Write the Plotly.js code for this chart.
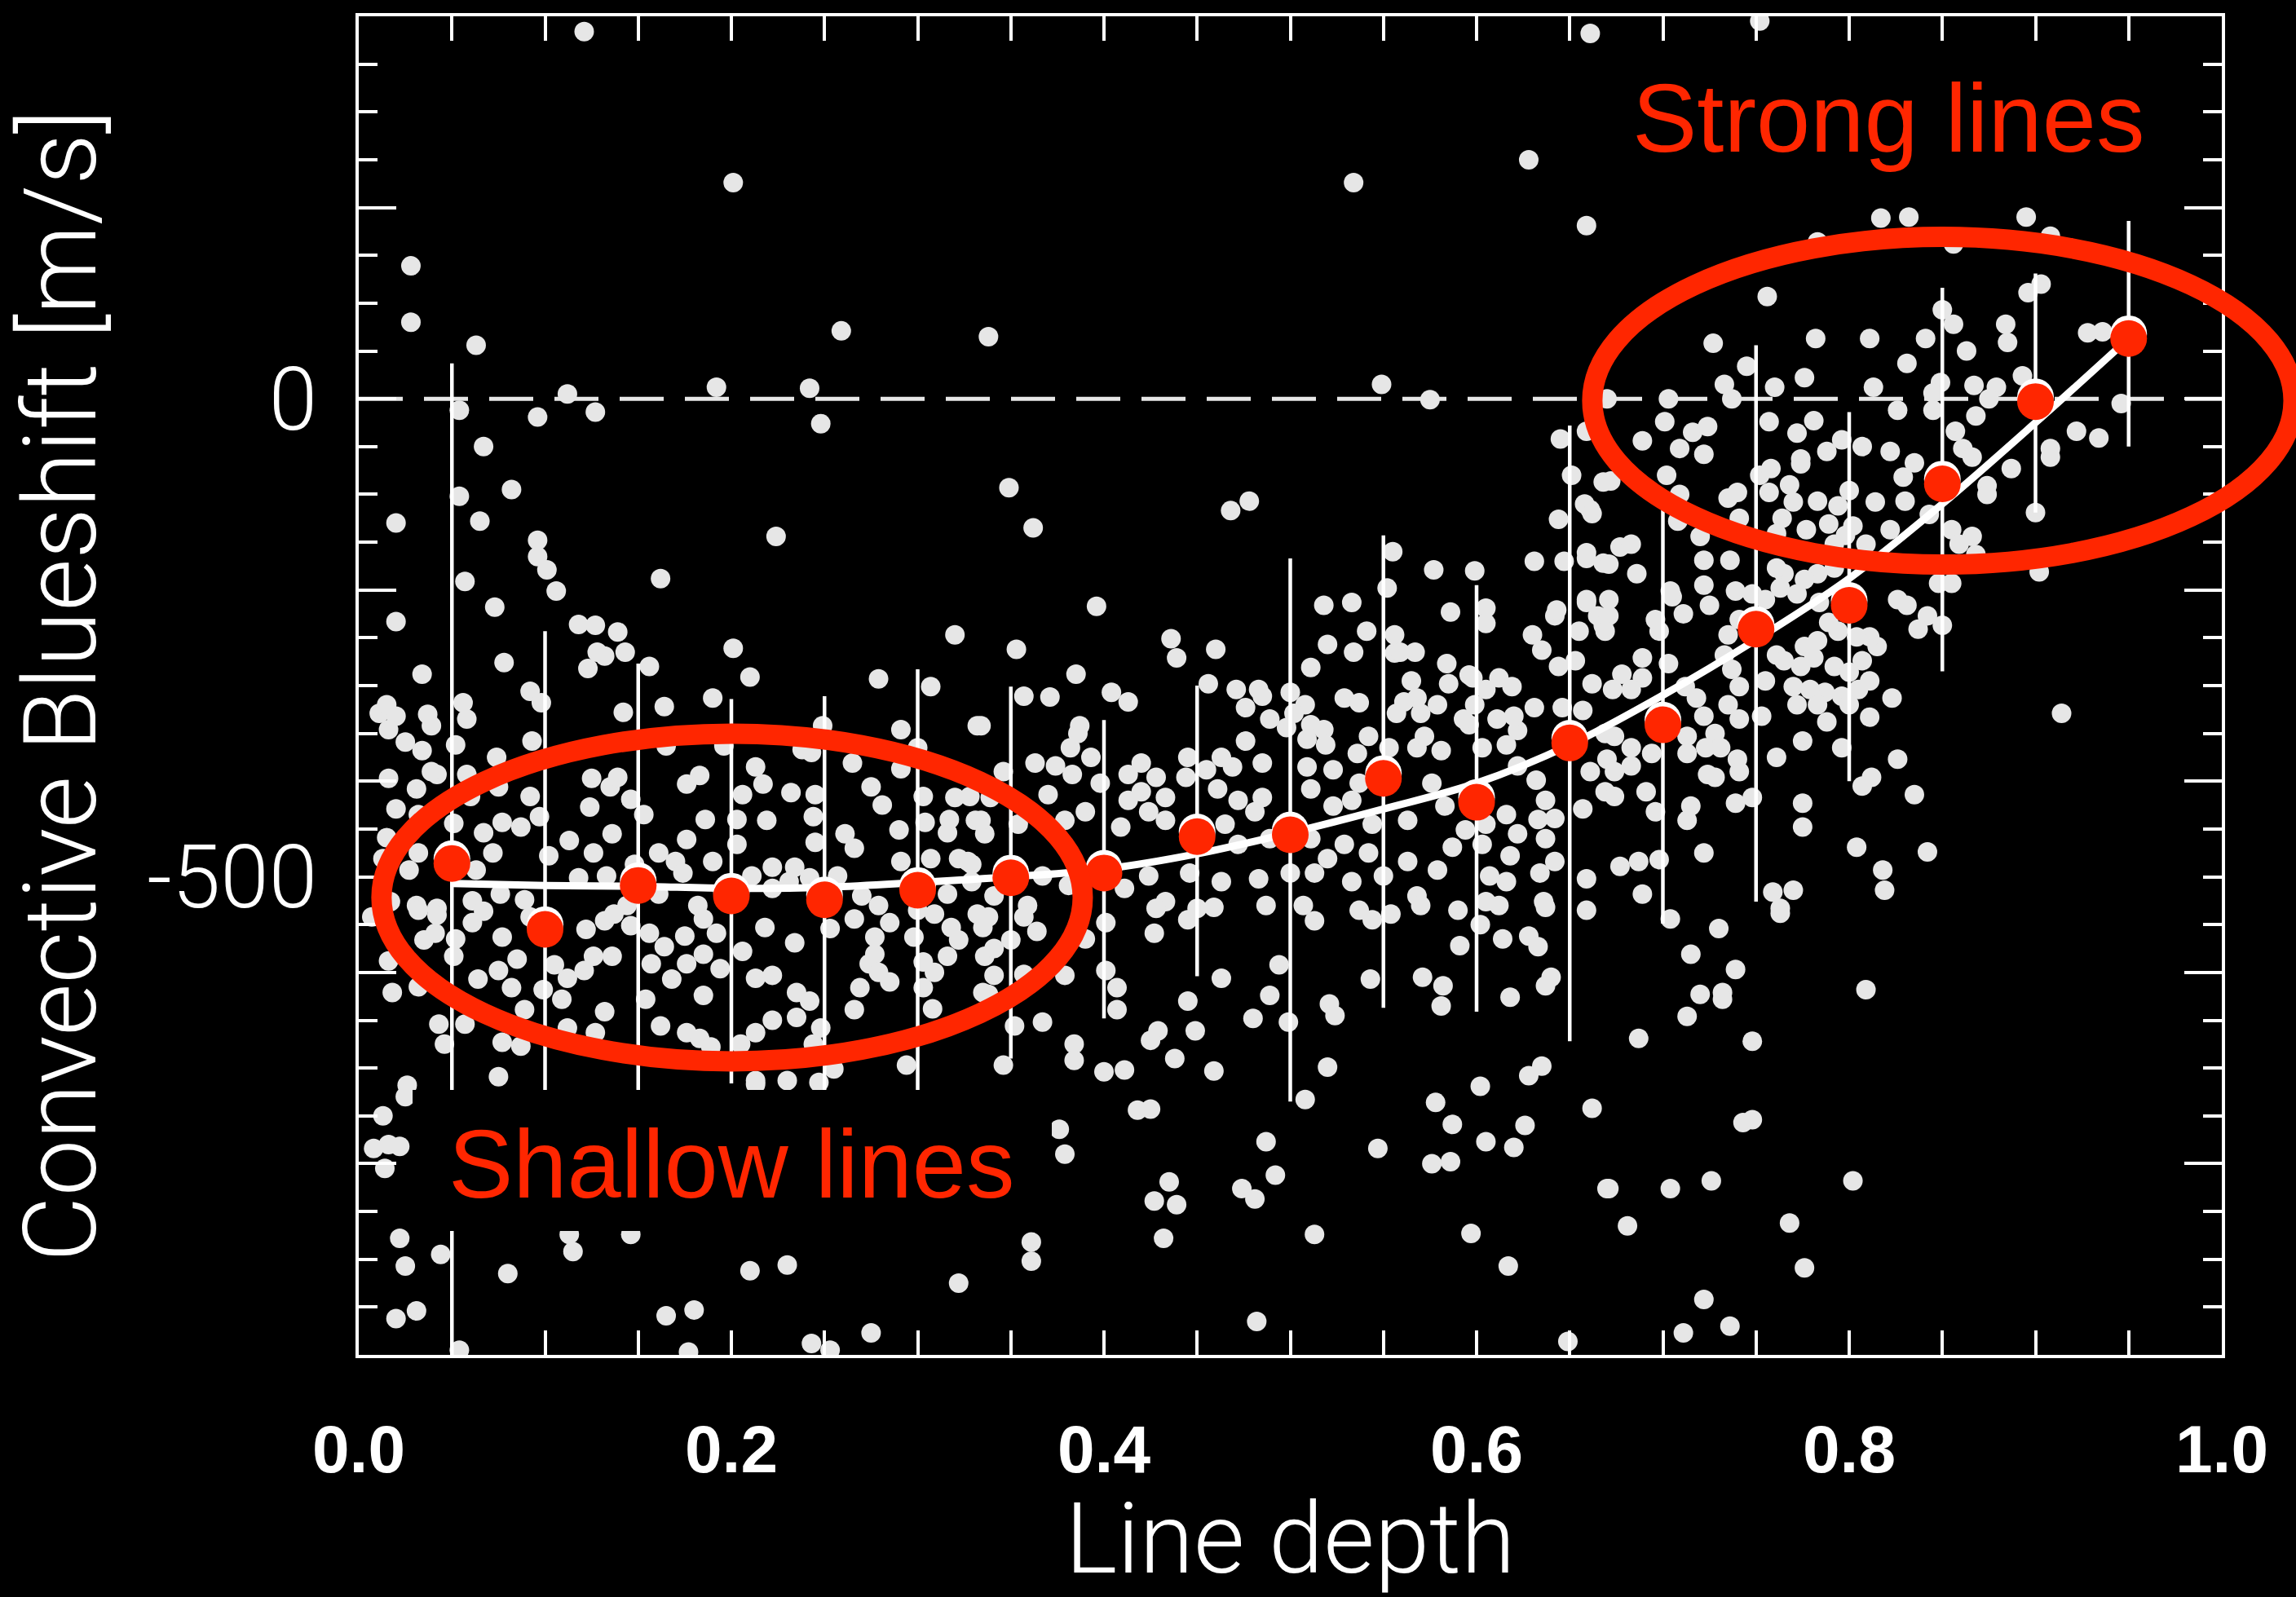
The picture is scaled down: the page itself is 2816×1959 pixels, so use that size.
<!DOCTYPE html>
<html>
<head>
<meta charset="utf-8">
<script src="https://cdn.plot.ly/plotly-3.0.1.min.js"></script>
<style>html,body{margin:0;padding:0;background:#000;}#chart{width:2816px;height:1959px;}</style>
</head>
<body>
<div id="chart"></div>
<script>
// Individual spectral lines: line depth (x) and convective blueshift in m/s (y)
const lineDepth = [
0.121,0.201,0.028,0.028,0.063,0.259,0.338,0.192,0.242,0.112,0.054,0.096,0.127,0.248,0.067,
0.661,0.534,0.628,0.659,0.549,0.575,0.645,0.659,0.670,
0.752,0.817,0.832,0.895,0.908,0.856,0.783,0.756,0.903,0.896,0.850,0.856,0.727,0.782,0.811,0.841,0.863,0.884,0.885,0.928,0.936,
0.745,0.831,0.733,0.776,0.760,0.737,0.703,0.813,0.849,0.845,0.867,0.879,0.893,0.946,0.701,0.716,0.724,0.689,0.757,0.781,0.772,
0.826,0.845,0.868,0.875,0.922,0.934,0.908,0.709,0.722,0.796,0.807,0.822,0.857,0.861,0.774,0.788,
0.054,0.082,0.020,0.065,0.096,0.096,0.101,0.106,0.224,0.057,0.162,0.073,0.020,0.118,0.127,0.139,0.128,0.132,0.143,0.123,0.156,
0.078,0.034,0.201,0.210,0.320,0.279,0.307,0.092,0.098,0.190,0.142,0.164,0.056,0.058,0.011,0.015,0.020,0.016,0.037,0.039,0.025,
0.034,0.052,0.093,0.074,0.249,0.291,0.332,0.300,0.265,0.165,0.196,0.238,0.243,0.213,0.217,0.232,0.176,0.183,0.206,0.245,0.275,
0.281,0.303,0.291,0.320,0.328,0.331,0.317,0.304,0.290,0.307,0.291,0.327,0.266,0.261,0.244,0.245,0.234,0.222,0.219,0.203,0.203,
0.190,0.186,0.176,0.161,0.170,0.153,0.146,0.135,0.139,0.125,0.124,0.136,0.126,0.113,0.102,0.092,0.097,0.087,0.077,0.075,0.060,
0.058,0.042,0.031,0.039,0.016,0.020,0.032,0.015,0.032,0.051,0.067,0.072,0.013,0.027,0.063,0.222,0.017,0.031,0.042,0.061,0.076,
0.089,0.118,0.133,0.174,0.182,0.231,0.270,0.279,0.316,0.329,0.322,0.316,0.336,0.329,0.242,0.257,0.211,0.148,0.161,0.144,
0.007,0.032,0.042,0.052,0.016,0.018,0.032,0.061,0.077,0.085,0.075,0.064,0.082,0.105,0.112,0.099,0.109,0.122,0.132,0.136,0.126,
0.121,0.132,0.089,0.043,0.057,0.046,0.077,0.087,0.075,0.112,0.127,0.156,0.164,0.175,0.192,0.157,0.168,0.176,0.185,0.194,0.154,
0.185,0.162,0.176,0.183,0.189,0.206,0.213,0.222,0.205,0.213,0.222,0.213,0.230,0.218,0.234,0.253,0.235,0.242,0.235,0.248,0.244,
0.255,0.247,0.266,0.269,0.277,0.274,0.285,0.279,0.303,0.309,0.303,0.308,0.294,0.316,0.336,0.298,0.318,0.335,0.300,0.332,
0.026,0.025,0.013,0.008,0.016,0.022,0.014,0.022,0.025,0.044,0.020,0.031,0.054,0.080,0.113,0.115,0.146,0.165,0.180,0.177,0.210,
0.230,0.275,0.243,0.253,0.322,0.213,0.035,0.041,0.051,0.067,0.092,0.137,0.146,0.185,0.266,0.277,0.285,0.322,0.309,0.335,
0.349,0.362,0.468,0.478,0.396,0.353,0.385,0.436,0.439,0.460,0.456,0.357,0.371,0.404,0.413,0.387,0.334,0.518,0.533,0.555,0.552,
0.577,0.599,0.586,0.605,0.605,0.631,0.647,0.644,0.661,0.651,0.659,0.668,0.630,0.642,0.659,0.665,0.668,0.635,0.644,0.584,0.598,
0.612,0.619,0.605,0.567,0.556,0.541,0.534,0.520,0.556,0.511,0.565,0.568,0.561,0.570,0.557,0.529,0.537,0.508,0.500,0.489,0.483,
0.471,0.476,0.498,0.511,0.518,0.519,0.509,0.476,0.463,0.445,0.455,0.469,0.485,0.509,0.511,0.523,0.536,0.542,0.553,0.537,0.533,
0.523,0.544,0.563,0.568,0.572,0.581,0.576,0.583,0.594,0.596,0.611,0.616,0.603,0.622,0.632,0.637,0.633,0.616,0.622,0.603,0.618,
0.637,0.642,0.634,0.616,0.607,0.659,0.669,0.661,0.657,0.642,0.670,0.669,0.657,0.662,0.653,0.646,0.631,0.622,0.620,0.599,0.593,
0.579,0.585,0.370,0.374,0.363,0.382,0.386,0.393,0.398,0.383,0.346,0.339,0.334,0.354,0.379,0.390,0.413,0.420,0.428,0.420,0.413,
0.424,0.433,0.433,0.409,0.444,0.461,0.472,0.485,0.481,0.465,0.472,0.489,0.511,0.520,0.529,0.542,0.550,0.563,0.579,0.587,0.533,
0.513,0.500,0.483,0.463,0.446,0.424,0.411,0.381,0.367,0.433,0.450,0.507,0.568,0.605,0.636,0.659,0.590,0.537,0.359,0.341,0.605,
0.596,0.559,0.502,0.485,
0.338,0.357,0.364,0.341,0.350,0.341,0.357,0.338,0.379,0.390,0.401,0.401,0.407,0.407,0.367,0.352,0.346,0.384,0.384,0.400,0.411,
0.418,0.425,0.376,0.379,0.427,0.428,0.445,0.459,0.463,0.445,0.449,0.429,0.425,0.438,0.459,0.435,0.427,0.439,0.361,0.361,0.432,
0.487,0.492,0.474,0.481,0.482,0.513,0.508,0.520,0.521,0.524,0.499,0.480,0.489,0.494,0.513,0.487,0.543,0.544,0.554,0.570,0.547,
0.571,0.582,0.581,0.591,0.602,0.614,0.628,0.633,0.612,0.637,0.640,0.637,0.618,0.578,0.602,0.587,0.628,0.635,0.626,0.662,0.605,
0.620,0.576,0.586,0.670,0.597,0.617,0.649,
0.704,0.763,0.730,0.715,0.739,0.720,0.732,0.732,0.713,0.687,0.748,0.809,0.743,0.748,0.671,0.704,0.726,0.802,0.681,0.768,0.776,
0.722,0.736,0.711,
0.672,0.702,0.709,0.708,0.720,0.735,0.740,0.741,0.752,0.758,0.757,0.768,0.770,0.764,0.761,0.774,0.783,0.777,0.789,0.794,0.800,
0.802,0.798,0.809,0.814,0.829,0.830,0.835,0.822,0.843,0.855,0.866,0.859,0.874,0.874,0.887,0.866,0.908,0.900,0.902,0.868,0.848,
0.855,0.850,0.842,0.837,0.826,0.831,0.823,0.811,0.811,0.807,0.815,0.811,0.804,0.792,0.800,0.792,0.783,0.776,0.765,0.761,0.763,
0.772,0.784,0.789,0.794,0.783,0.776,0.761,0.765,0.774,0.781,0.792,0.800,0.805,0.796,0.787,0.779,0.770,0.772,0.783,0.800,0.788,
0.775,0.761,0.796,0.826,0.812,0.807,0.835,0.775,0.775,0.804,0.842,0.818,0.819,0.770,0.759,0.914,0.753,0.755,0.741,0.737,0.733,
0.735,0.741,0.725,0.722,0.722,0.736,0.739,0.748,0.755,0.705,0.711,0.696,0.698,0.704,0.677,0.683,0.686,0.671,0.671,0.671,0.689,
0.703,0.678,0.689,0.673,0.683,0.718,0.712,0.722,0.735,0.741,0.728,0.713,0.674,0.683,0.694,0.713,0.723,0.731,0.740,0.728,0.741,
0.674,0.683,0.691,0.674,0.696,0.713,0.715,0.724,0.739,0.748,0.677,0.687,0.698,0.722,0.689,0.763,
0.668,0.658,0.662,0.659,0.659,0.643,0.655,0.669
];
const blueshift = [
384,226,139,80,56,71,65,12,11,5,-12,-19,-14,-26,-50,
382,226,250,181,15,-1,-42,-34,0,
395,189,190,190,170,162,164,107,120,111,93,78,58,63,63,63,50,78,59,69,70,
34,37,15,22,12,0,0,12,17,6,14,12,24,-5,-24,-35,-29,-44,-24,-23,-36,
-12,-12,-18,0,-34,-41,-52,-52,-58,-43,-50,-55,-34,-52,-63,-55,
-102,-95,-130,-128,-148,-165,-179,-201,-144,-191,-188,-218,-233,-236,-237,-244,-265,-269,-265,-282,-280,
-276,-288,-261,-291,-247,-293,-301,-306,-318,-313,-328,-322,-318,-335,-329,-320,-332,-346,-330,-342,-359,
-368,-362,-358,-375,-342,-346,-342,-365,-381,-363,-363,-367,-370,-385,-403,-412,-403,-394,-414,-414,-406,
-425,-416,-387,-417,-416,-441,-440,-443,-451,-481,-484,-484,-470,-455,-437,-464,-490,-490,-441,-440,-466,
-484,-440,-461,-475,-484,-435,-419,-406,-396,-397,-427,-455,-475,-462,-478,-416,-437,-448,-443,-406,-416,
-393,-393,-408,-390,-397,-429,-435,-459,-475,-444,-454,-475,-481,-493,-493,-512,-526,-530,-533,-525,-518,
-524,-501,-499,-496,-530,-505,-520,-530,-518,-505,-481,-454,-455,-487,-501,-499,-499,-487,-518,-530,
-542,-535,-540,-565,-588,-621,-615,-548,-563,-586,-598,-607,-616,-592,-606,-618,-628,-555,-546,-583,-583,
-598,-641,-639,-654,-654,-675,-673,-677,-709,-658,-663,-559,-573,-562,-559,-591,-607,-591,-581,-596,-628,
-624,-656,-663,-669,-678,-578,-606,-603,-675,-663,-650,-713,-713,-553,-569,-554,-621,-630,-647,-658,-675,
-701,-715,-639,-616,-581,-591,-610,-600,-589,-600,-616,-638,-697,-583,-583,-563,-553,-621,-535,-539,
-718,-730,-750,-784,-780,-782,-805,-878,-907,-895,-962,-954,-995,-915,-874,-892,-874,-959,-953,-997,-912,
-906,-977,-988,-995,-925,-717,-566,-559,-583,-536,-542,-539,-551,-544,-544,-563,-548,-566,-539,-553,
-93,-135,-117,-107,-217,-262,-288,-251,-271,-262,-298,-311,-312,-307,-317,-342,-342,-216,-213,-160,-198,
-179,-180,-223,-219,-235,-170,-170,-126,-116,-80,-167,-172,-247,-227,-213,-227,-237,-263,-280,-277,-292,
-292,-301,-304,-265,-247,-243,-265,-257,-266,-281,-295,-313,-317,-329,-329,-313,-318,-320,-307,-335,-304,
-304,-323,-344,-341,-346,-362,-356,-358,-375,-375,-388,-385,-381,-385,-408,-388,-371,-353,-365,-402,-420,
-426,-445,-441,-365,-353,-368,-402,-426,-451,-341,-335,-362,-365,-384,-399,-420,-440,-435,-455,-466,-478,
-460,-484,-496,-505,-499,-502,-411,-390,-429,-439,-377,-350,-326,-298,-274,-323,-323,-347,-332,-320,-335,
-320,-298,-414,-384,-381,-365,-350,-375,-402,-393,-390,-417,-441,-445,-441,-432,-393,-381,-396,-411,-420,
-432,-417,-441,-448,-396,-408,-420,-417,-432,-445,-466,-460,-460,-481,-466,-475,-499,-484,-493,-469,-505,
-496,-496,-502,-505,-496,-499,-512,-509,-499,-526,-533,-530,-520,-526,-526,-535,-535,-535,-530,-520,-445,
-289,-265,-329,-311,
-542,-542,-557,-575,-566,-603,-602,-623,-603,-565,-548,-598,-616,-639,-652,-656,-697,-675,-692,-704,-702,
-744,-743,-764,-790,-559,-533,-545,-532,-606,-630,-661,-661,-671,-690,-703,-819,-839,-843,-882,-902,-878,
-777,-812,-826,-837,-965,-874,-733,-699,-633,-645,-652,-648,-624,-592,-546,-530,-607,-545,-539,-530,-784,
-605,-614,-635,-572,-550,-565,-562,-573,-530,-532,-605,-614,-626,-736,-719,-759,-708,-698,-760,-742,-777,
-783,-800,-798,-826,-873,-907,-986,
-544,-538,-554,-581,-597,-623,-621,-628,-646,-669,-672,-618,-757,-754,-826,-826,-818,-818,-865,-862,-909,
-942,-970,-977,
-86,-80,-100,-128,-144,-104,-98,-125,-80,-73,-98,-90,-108,-125,-141,-68,-107,-137,-131,-112,-96,
-133,-143,-152,-108,-82,-107,-67,-137,-121,-137,-144,-152,-91,-100,-73,-61,-61,-119,-181,-163,-193,
-193,-237,-227,-241,-210,-216,-313,-333,-295,-274,-259,-249,-249,-152,-167,-177,-183,-189,-183,-177,-198,
-204,-213,-234,-243,-253,-259,-268,-274,-280,-271,-280,-286,-304,-311,-307,-304,-301,-320,-320,-320,-338,
-358,-375,-365,-377,-396,-405,-414,-423,-448,-469,-474,-493,-514,-514,-516,-329,-332,-295,-301,-283,-268,
-247,-231,-216,-195,-169,-169,-201,-204,-210,-207,-225,-231,-243,-201,-155,-152,-183,-173,-210,-227,-271,
-277,-288,-292,-304,-304,-313,-301,-332,-320,-335,-350,-353,-353,-365,-371,-371,-365,-365,-377,-396,-390,
-390,-384,-411,-416,-432,-441,-426,-393,-423,-417,-489,-484,-482,-475,-518,-533,
-87,-110,-120,-161,-210,-221,-243,-243
];

// Binned averages (red dots) and their scatter (error bars)
const binDepth = [0.05,0.10,0.15,0.20,0.25,0.30,0.35,0.40,0.45,0.50,0.55,0.60,0.65,0.70,0.75,0.80,0.85,0.90,0.95];
const binMean  = [-486,-555,-509,-520,-524,-514,-501,-496,-458,-456,-397,-422,-360,-341,-241,-216,-89,-3,63];
const binErrUp   = [523,312,232,206,213,231,200,160,158,289,254,227,332,236,297,202,205,134,123];
const binErrDown = [523,312,232,196,213,231,189,152,146,279,240,219,312,208,285,184,196,116,113];

// Smooth fit through the binned values (white curve)
const fitDepth = [0.05,0.10,0.15,0.20,0.25,0.30,0.35,0.40,0.45,0.50,0.55,0.60,0.65,0.70,0.75,0.80,0.85,0.90,0.95];
const fitShift = [-507,-509,-510,-512,-511,-506,-500,-492,-476,-454,-429,-402,-362,-310,-252,-188,-110,-25,63];

// Axis tick labels
const xTickVals = [0, 0.2, 0.4, 0.6, 0.8, 1.0];
const xTickText = ['0.0','0.2','0.4','0.6','0.8','1.0'];
const yMajorVals = [-1000,-800,-600,-400,-200,0,200,400];
const yLabelVals = [0, -500];
const yLabelText = ['0', '-500'];

const RED = '#ff2600';
const LIGHT = "Roboto, 'Open Sans', Lato, sans-serif";
const REG = "'Liberation Sans', Arial, Helvetica, sans-serif";

const traces = [
  {
    type: 'scatter', mode: 'markers', x: lineDepth, y: blueshift,
    marker: {size: 24, color: '#e6e6e6', line: {width: 0}},
    hoverinfo: 'skip', showlegend: false
  },
  {
    type: 'scatter', mode: 'lines', x: fitDepth, y: fitShift,
    line: {color: '#ffffff', width: 9, shape: 'spline', smoothing: 1},
    hoverinfo: 'skip', showlegend: false
  },
  {
    type: 'scatter', mode: 'markers', x: binDepth, y: binMean.map(v => v + 5),
    marker: {size: 45, color: '#ffffff', line: {width: 0}},
    hoverinfo: 'skip', showlegend: false
  },
  {
    type: 'scatter', mode: 'markers', x: binDepth, y: binMean,
    marker: {size: 45, color: RED, line: {width: 0}},
    error_y: {type: 'data', symmetric: false, array: binErrUp, arrayminus: binErrDown,
              color: '#ffffff', thickness: 4.5, width: 0},
    hoverinfo: 'skip', showlegend: false
  },
  {
    // invisible trace that carries the labelled y axis
    type: 'scatter', mode: 'markers', x: [0.5], y: [0], yaxis: 'y2',
    marker: {size: 1, color: 'rgba(0,0,0,0)'}, hoverinfo: 'skip', showlegend: false
  }
];

const layout = {
  width: 2816, height: 1959,
  paper_bgcolor: '#000000', plot_bgcolor: '#000000',
  margin: {l: 440, r: 91, t: 20, b: 297, pad: 0},
  showlegend: false, hovermode: false,
  xaxis: {
    range: [0, 1], showgrid: false, zeroline: false,
    showline: true, linecolor: '#ffffff', linewidth: 4, mirror: 'allticks',
    ticks: 'inside', ticklen: 30, tickwidth: 4, tickcolor: '#ffffff',
    tickvals: xTickVals, ticktext: xTickText,
    tickfont: {family: REG, size: 82, color: '#ffffff', weight: 'bold'},
    ticklabelstandoff: 42,
    minor: {dtick: 0.05, ticks: 'inside', ticklen: 13, tickwidth: 4, tickcolor: '#ffffff', showgrid: false},
    title: {text: 'Line depth', font: {family: LIGHT, size: 121, color: '#ffffff', weight: 300}, standoff: 52}
  },
  yaxis: {
    range: [-1000, 400], showgrid: false, zeroline: false,
    showline: true, linecolor: '#ffffff', linewidth: 4, mirror: 'allticks',
    ticks: 'inside', ticklen: 46, tickwidth: 4, tickcolor: '#ffffff',
    tickvals: yMajorVals, showticklabels: false,
    minor: {dtick: 50, ticks: 'inside', ticklen: 23, tickwidth: 4, tickcolor: '#ffffff', showgrid: false},
    title: {text: 'Convective Blueshift [m/s]', font: {family: LIGHT, size: 124, color: '#ffffff', weight: 300}, standoff: 278}
  },
  yaxis2: {
    overlaying: 'y', side: 'left', anchor: 'x',
    range: [-1000, 400], showgrid: false, zeroline: false, showline: false, ticks: '',
    tickvals: yLabelVals, ticktext: yLabelText,
    tickfont: {family: LIGHT, size: 107, color: '#ffffff', weight: 300},
    ticklabelstandoff: 50
  },
  shapes: [
    {type: 'line', xref: 'x', yref: 'y', x0: 0, x1: 1, y0: 0, y1: 0, layer: 'below',
     line: {color: '#e6e6e6', width: 5, dash: '54px,26px'}},
    {type: 'rect', xref: 'paper', yref: 'paper', x0: 0.0289, x1: 0.372, y0: 0.0926, y1: 0.1979,
     layer: 'above', fillcolor: '#000000', line: {width: 0}},
    {type: 'circle', xref: 'paper', yref: 'paper', x0: 0.6621, x1: 1.0385, y0: 0.5904, y1: 0.8352,
     layer: 'above', fillcolor: 'rgba(0,0,0,0)', line: {color: RED, width: 25}},
    {type: 'circle', xref: 'paper', yref: 'paper', x0: 0.0122, x1: 0.3886, y0: 0.2193, y1: 0.4641,
     layer: 'above', fillcolor: 'rgba(0,0,0,0)', line: {color: RED, width: 25}}
  ],
  annotations: [
    {text: 'Strong lines', xref: 'paper', yref: 'paper', x: 0.8208, y: 0.9239,
     xanchor: 'center', yanchor: 'middle', showarrow: false,
     font: {family: REG, size: 119, color: RED}},
    {text: 'Shallow lines', xref: 'paper', yref: 'paper', x: 0.2, y: 0.1431,
     xanchor: 'center', yanchor: 'middle', showarrow: false,
     font: {family: REG, size: 119, color: RED}}
  ]
};

Plotly.newPlot('chart', traces, layout, {displayModeBar: false, staticPlot: true});
</script>
</body>
</html>
